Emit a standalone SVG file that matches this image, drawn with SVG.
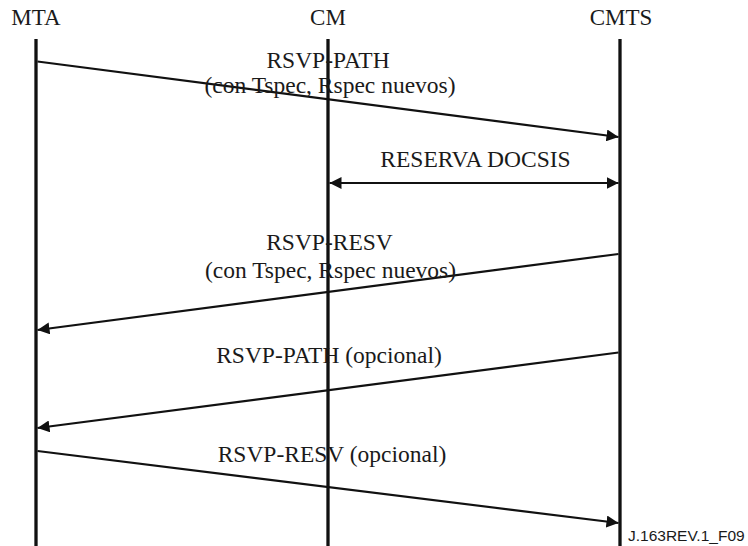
<svg xmlns="http://www.w3.org/2000/svg" width="748" height="546" viewBox="0 0 748 546">
<style>
.hdr{font-family:"Liberation Serif","Times New Roman",serif;font-size:23px;fill:#1a1a1a;text-anchor:middle}
.lbl{font-family:"Liberation Serif","Times New Roman",serif;font-size:23.5px;fill:#1a1a1a;text-anchor:middle}
.ref{font-family:"Liberation Sans",Arial,sans-serif;font-size:15.5px;fill:#1a1a1a}
.life{stroke:#111;stroke-width:3.3;fill:none}
.msg{stroke:#111;stroke-width:2.2;fill:none}
</style>
<defs>
<marker id="ah" markerUnits="userSpaceOnUse" markerWidth="12" markerHeight="12" refX="12" refY="6" orient="auto-start-reverse" viewBox="0 0 12 12">
<path d="M0,0 L12,6 L0,12 z" fill="#111"/>
</marker>
</defs>
<g id="node-mta">
<text class="hdr" x="36" y="25">MTA</text>
<line class="life" x1="36" y1="39" x2="36" y2="546"/>
</g>
<g id="node-cm">
<text class="hdr" x="328" y="25">CM</text>
<line class="life" x1="328" y1="39" x2="328" y2="546"/>
</g>
<g id="node-cmts">
<text class="hdr" x="621" y="25">CMTS</text>
<line class="life" x1="620" y1="39" x2="620" y2="546"/>
</g>
<g id="connectors">
<line class="msg" x1="37.5" y1="61.5" x2="618.5" y2="137" marker-end="url(#ah)"/>
<line class="msg" x1="329.5" y1="183" x2="618.5" y2="183" marker-start="url(#ah)" marker-end="url(#ah)"/>
<line class="msg" x1="618.5" y1="254" x2="37.5" y2="330" marker-end="url(#ah)"/>
<line class="msg" x1="618.5" y1="352.5" x2="37.5" y2="428" marker-end="url(#ah)"/>
<line class="msg" x1="37.5" y1="451" x2="618.5" y2="523" marker-end="url(#ah)"/>
</g>
<g id="labels">
<text class="lbl" x="328" y="67.5">RSVP-PATH</text>
<text class="lbl" x="330" y="93">(con Tspec, Rspec nuevos)</text>
<text class="lbl" x="475.5" y="166.5">RESERVA DOCSIS</text>
<text class="lbl" x="329.5" y="250">RSVP-RESV</text>
<text class="lbl" x="330.5" y="278">(con Tspec, Rspec nuevos)</text>
<text class="lbl" x="329" y="363">RSVP-PATH (opcional)</text>
<text class="lbl" x="332" y="461.5">RSVP-RESV (opcional)</text>
<text class="ref" x="628" y="540.5">J.163REV.1_F09</text>
</g>
</svg>
